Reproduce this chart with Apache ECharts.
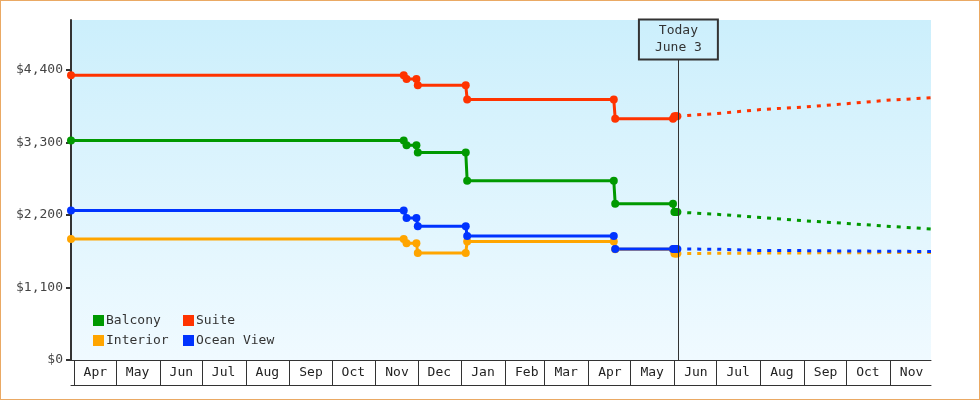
<!DOCTYPE html>
<html>
<head>
<meta charset="utf-8">
<title>Cabin prices</title>
<script src="https://cdn.jsdelivr.net/npm/echarts@6/dist/echarts.min.js"></script>
<style>
  html, body { margin: 0; padding: 0; background: #fff; }
  .wrap { width: 980px; height: 400px; box-sizing: border-box; border: 1px solid #eaa964; }
  #chart { width: 978px; height: 398px; }
</style>
</head>
<body>
<div class="wrap"><div id="chart"></div></div>
<script>
// month boxes under the plot
const monthNames = ['Jan', 'Feb', 'Mar', 'Apr', 'May', 'Jun', 'Jul', 'Aug', 'Sep', 'Oct', 'Nov', 'Dec'];
const monthTicks = ['2022-04-01', '2022-05-01', '2022-06-01', '2022-07-01', '2022-08-01', '2022-09-01',
  '2022-10-01', '2022-11-01', '2022-12-01', '2023-01-01', '2023-02-01', '2023-03-01', '2023-04-01',
  '2023-05-01', '2023-06-01', '2023-07-01', '2023-08-01', '2023-09-01', '2023-10-01', '2023-11-01'];
const yTicks = [0, 1100, 2200, 3300, 4400];

// price history (points either side of each change)
const historyDates = ['2022-03-30', '2022-11-21', '2022-11-23', '2022-11-30', '2022-12-01', '2023-01-04',
  '2023-01-05', '2023-04-19', '2023-04-20', '2023-05-31', '2023-06-01', '2023-06-02', '2023-06-03'];
const balconyPrices = [3330, 3330, 3260, 3260, 3150, 3150, 2720, 2720, 2370, 2370, 2245, 2245, 2245];
const suitePrices = [4320, 4320, 4265, 4265, 4170, 4170, 3955, 3955, 3660, 3660, 3700, 3700, 3700];
const interiorPrices = [1835, 1835, 1770, 1770, 1625, 1625, 1800, 1800, 1680, 1680, 1615, 1615, 1615];
const oceanViewPrices = [2270, 2270, 2155, 2155, 2030, 2030, 1880, 1880, 1685, 1685, 1685, 1685, 1685];

// forecast after today
const forecastDates = ['2023-06-03', '2023-07-01', '2023-08-01', '2023-09-01', '2023-10-01', '2023-11-01', '2023-11-30'];
const balconyForecast = [2245, 2211, 2164, 2114, 2073, 2027, 1988];
const suiteForecast = [3700, 3740, 3800, 3840, 3890, 3945, 3980];
const interiorForecast = [1615, 1620, 1622, 1625, 1628, 1630, 1632];
const oceanViewForecast = [1685, 1681, 1662, 1660, 1655, 1650, 1647];

const today = '2023-06-03';

function ts(s) {
  const p = s.split('-');
  return new Date(+p[0], +p[1] - 1, +p[2]).getTime();
}
function pairs(dates, vals) {
  return dates.map((d, i) => [ts(d), vals[i]]);
}

const font = 'DejaVu Sans Mono';
const axisColor = '#333';
const xMin = ts('2022-03-30');
const xMax = ts('2023-11-30');

const colors = {
  'Balcony': '#009900',
  'Suite': '#ff3300',
  'Interior': '#ffa500',
  'Ocean View': '#0033ff'
};

function historySeries(name, vals) {
  return {
    name: name,
    type: 'line',
    data: pairs(historyDates, vals),
    color: colors[name],
    symbol: 'circle',
    symbolSize: 8,
    showAllSymbol: true,
    lineStyle: { width: 3, color: colors[name] },
    itemStyle: { color: colors[name] }
  };
}
function forecastSeries(name, vals) {
  return {
    name: name,
    type: 'line',
    data: pairs(forecastDates, vals),
    color: colors[name],
    symbol: 'none',
    lineStyle: { width: 3, type: [4, 6], color: colors[name] },
    itemStyle: { color: colors[name] }
  };
}

const todayX = ts(today) + 20 * 3600 * 1000;
const oceanHist = historySeries('Ocean View', oceanViewPrices);
oceanHist.markLine = {
  silent: true,
  symbol: 'none',
  animation: false,
  lineStyle: { color: axisColor, width: 1, type: 'solid' },
  label: {
    show: true,
    position: 'end',
    distance: 0,
    formatter: 'Today\nJune 3',
    fontFamily: font,
    fontSize: 13,
    lineHeight: 17,
    color: axisColor,
    padding: [3, 16, 3, 16],
    borderColor: axisColor,
    borderWidth: 1,
    backgroundColor: 'transparent'
  },
  data: [[
    { coord: [todayX, 0] },
    { coord: [todayX, 4560] }
  ]]
};

const legendBase = {
  orient: 'vertical',
  top: 313,
  padding: 0,
  icon: 'rect',
  itemWidth: 11, itemHeight: 11, itemGap: 7,
  textStyle: { fontFamily: font, fontSize: 13, color: axisColor, padding: [0, 0, 0, -3] }
};

const chart = echarts.init(document.getElementById('chart'));
chart.setOption({
  animation: false,
  grid: {
    left: 70, right: 48, top: 19, bottom: 39,
    show: true,
    borderWidth: 0,
    backgroundColor: new echarts.graphic.LinearGradient(0, 0, 0, 1, [
      { offset: 0, color: '#cceffc' },
      { offset: 1, color: '#f0faff' }
    ])
  },
  legend: [
    Object.assign({}, legendBase, { data: ['Balcony', 'Interior'], left: 92 }),
    Object.assign({}, legendBase, { data: ['Suite', 'Ocean View'], left: 182 })
  ],
  xAxis: [
    {
      type: 'value',
      min: xMin, max: xMax,
      axisLine: { show: true, lineStyle: { color: axisColor, width: 1 } },
      axisTick: { show: true, customValues: monthTicks.map(ts), length: 25, lineStyle: { color: axisColor, width: 1 } },
      axisLabel: {
        customValues: monthTicks.map(ts),
        align: 'left',
        margin: 6,
        formatter: function (v) {
          return '{m|' + monthNames[new Date(v).getMonth()] + '}';
        },
        rich: { m: { width: 43, align: 'center', fontFamily: font, fontSize: 13, color: '#222' } }
      },
      splitLine: { show: false }
    },
    {
      type: 'value',
      min: xMin, max: xMax,
      position: 'bottom',
      offset: 25,
      axisLine: { show: true, lineStyle: { color: axisColor, width: 1 } },
      axisTick: { show: false },
      axisLabel: { show: false },
      splitLine: { show: false }
    }
  ],
  yAxis: {
    type: 'value',
    min: 0, max: 5160,
    axisLine: { show: true, lineStyle: { color: axisColor, width: 2 } },
    axisTick: { show: true, customValues: yTicks, length: 5, lineStyle: { color: axisColor, width: 2 } },
    axisLabel: {
      customValues: yTicks,
      margin: 8,
      fontFamily: font, fontSize: 13, color: '#444',
      formatter: function (v) { return '$' + v.toLocaleString('en-US'); }
    },
    splitLine: { show: false }
  },
  series: [
    historySeries('Balcony', balconyPrices),
    forecastSeries('Balcony', balconyForecast),
    historySeries('Suite', suitePrices),
    forecastSeries('Suite', suiteForecast),
    historySeries('Interior', interiorPrices),
    forecastSeries('Interior', interiorForecast),
    oceanHist,
    forecastSeries('Ocean View', oceanViewForecast)
  ]
});
</script>
</body>
</html>
